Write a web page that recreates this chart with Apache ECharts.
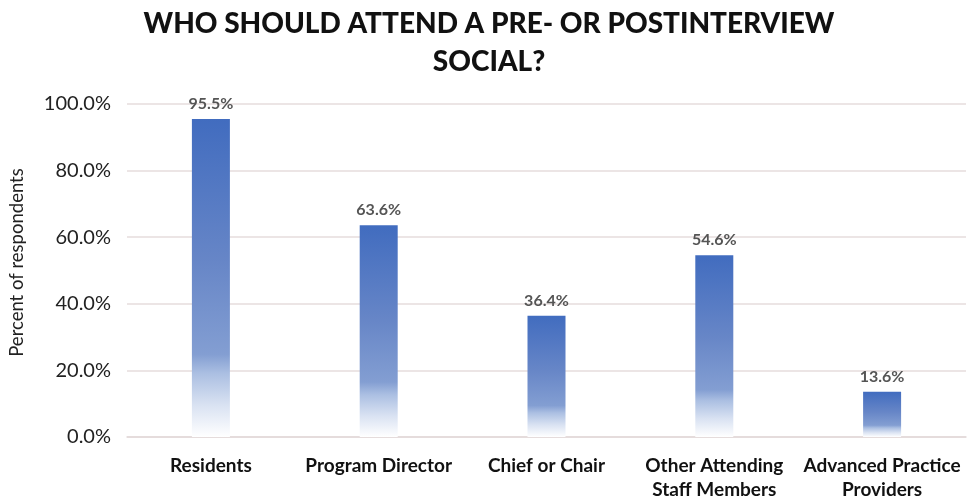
<!DOCTYPE html>
<html><head><meta charset="utf-8">
<script src="https://cdn.jsdelivr.net/npm/echarts@6/dist/echarts.min.js"></script>
<style>html,body{margin:0;padding:0;background:#fff}#c{width:967px;height:502px}</style>
</head><body><div id="c"></div>
<script>
const categories = ['Residents', 'Program Director', 'Chief or Chair', 'Other Attending\nStaff Members', 'Advanced Practice\nProviders'];
const values = [95.5, 63.6, 36.4, 54.6, 13.6];
const yTicks = [0, 20, 40, 60, 80, 100];

const chart = echarts.init(document.getElementById('c'));
const FONT = 'Lato, "Open Sans", sans-serif';
chart.setOption({
  animation: false,
  title: {
    text: 'WHO SHOULD ATTEND A PRE- OR POSTINTERVIEW\nSOCIAL?',
    left: 484, top: 0, textAlign: 'center',
    textStyle: { fontFamily: FONT, fontWeight: 900, fontSize: 28, color: '#111', lineHeight: 38 }
  },
  grid: { left: 123, right: 1, top: 104, bottom: 64 },
  xAxis: {
    type: 'category', data: categories,
    axisTick: { show: false },
    axisLine: { lineStyle: { color: '#e2d9d9', width: 1.5 } },
    axisLabel: { fontFamily: FONT, fontWeight: 'bold', fontSize: 19, color: '#111', margin: 17, lineHeight: 24, interval: 0 }
  },
  yAxis: {
    type: 'value', min: 0, max: 100, interval: 20,
    name: 'Percent of respondents', nameLocation: 'middle', nameGap: 100,
    nameTextStyle: { fontFamily: FONT, fontSize: 18.5, color: '#222', padding: [0, 0, 0, 16] },
    axisLabel: { fontFamily: FONT, fontSize: 20, color: '#222', margin: 16, formatter: v => v.toFixed(1) + '%' },
    splitLine: { lineStyle: { color: '#e6dcdc', width: 1.5 } },
    axisLine: { show: false }, axisTick: { show: false }
  },
  series: [{
    type: 'bar', data: values, barWidth: 38,
    itemStyle: {
      color: new echarts.graphic.LinearGradient(0, 0, 0, 1, [
        { offset: 0, color: '#416cbf' },
        { offset: 0.45, color: '#6786c7' },
        { offset: 0.74, color: '#839ed2' },
        { offset: 0.8, color: '#abbfe2' },
        { offset: 0.9, color: '#d9e2f2' },
        { offset: 1, color: '#ffffff' }
      ])
    },
    label: {
      show: true, position: 'top', distance: 7,
      fontFamily: FONT, fontWeight: 'bold', fontSize: 16, color: '#555',
      formatter: p => p.value.toFixed(1) + '%'
    }
  }]
});
</script></body></html>
